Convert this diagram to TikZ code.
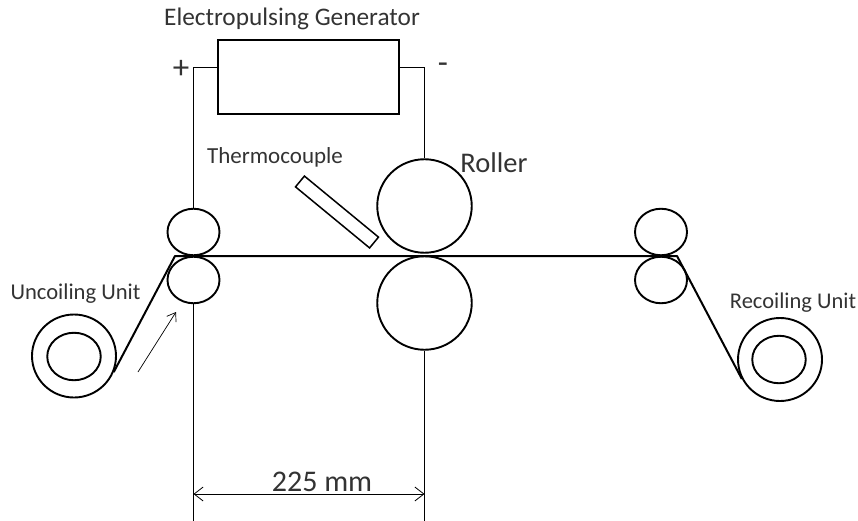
\documentclass[tikz,border=0pt]{standalone}
\usepackage{fontspec}
\setmainfont{Carlito}
\usetikzlibrary{arrows.meta,shapes.geometric}

\begin{document}
\begin{tikzpicture}[x=1pt,y=-1pt,
    roller/.style = {draw, ellipse, line width=1.9pt, inner sep=0pt},
    small/.style = {roller, minimum width=52pt, minimum height=46.5pt},
    big/.style = {roller, minimum width=94.5pt, minimum height=93.5pt},
    outercoil/.style = {roller, minimum width=84pt, minimum height=83pt},
    innercoil/.style = {roller, minimum width=53.5pt, minimum height=47.5pt},
    wire/.style = {line width=1pt},
    strip/.style = {line width=2pt, line join=round},
    label/.style = {inner sep=0pt, text=black!80},
    dimarrow/.style = {line width=0.8pt, {Straight Barb[length=9pt,width=14pt]}-{Straight Barb[length=9pt,width=14pt]}}]
\useasboundingbox (0,0) rectangle (858,521);

% generator
\node (gen) [draw, line width=2pt, minimum width=181pt, minimum height=74pt, inner sep=0pt] at (308.5,77) {};
\node (gentext) [label, font=\fontsize{25.3}{25.3}\selectfont] at (292,18.5) {Electropulsing Generator};
\node (plus) [label, font=\fontsize{33}{33}\selectfont] at (181,69) {+};
\node (minus) [label, font=\fontsize{33}{33}\selectfont] at (443,68) {-};

% rollers
\node (pinchLU) [small] at (193.5,232) {};
\node (pinchLD) [small] at (193.5,280) {};
\node (rollU) [big] at (424.5,206) {};
\node (rollD) [big] at (424.5,303) {};
\node (pinchRU) [small] at (661,232) {};
\node (pinchRD) [small] at (661,280) {};
\node (rolltext) [label, font=\fontsize{28.5}{28.5}\selectfont] at (494,163) {Roller};

% coils
\node (coilL) [outercoil] at (74,356) {};
\node (coreL) [innercoil] at (74,356.5) {};
\node (coilR) [outercoil] at (780,359.5) {};
\node (coreR) [innercoil] at (779,359.5) {};
\node (uncoil) [label, font=\fontsize{22.6}{22.6}\selectfont] at (75.5,294) {Uncoiling Unit};
\node (recoil) [label, font=\fontsize{22.5}{22.5}\selectfont] at (793,302.5) {Recoiling Unit};

% thermocouple
\node (thermo) [draw, line width=1.5pt, minimum width=96pt, minimum height=14pt, inner sep=0pt, rotate=-39.5] at (337,212) {};
\node (thermotext) [label, font=\fontsize{23}{23}\selectfont] at (275,157.5) {Thermocouple};

% wires
\draw[wire] ([yshift=9pt]gen.west) -| (pinchLU.north);
\draw[wire] ([yshift=9pt]gen.east) -| (rollU.north);
\coordinate (endL) at (193.5,521);
\coordinate (endR) at (424.5,521);
\draw[wire] (pinchLD.south) -- (endL);
\draw[wire] (rollD.south) -- (endR);

% strip
\coordinate (stripL) at (175,256);
\coordinate (stripR) at (677,256);
\draw[strip] (coilL.-22) -- (stripL) -- (stripR) -- (coilR.207);

% feed direction
\coordinate (feedA) at (138,372);
\coordinate (feedB) at (176,312);
\draw[line width=0.7pt, -{Straight Barb[length=8pt,width=11pt]}] (feedA) -- (feedB);

% distance
\coordinate (dimA) at (193.5,494);
\coordinate (dimB) at (424.5,494);
\draw[dimarrow] (dimA) -- (dimB);
\node (dimtext) [label, font=\fontsize{30}{30}\selectfont] at (322,481.5) {225 mm};
\end{tikzpicture}
\end{document}
